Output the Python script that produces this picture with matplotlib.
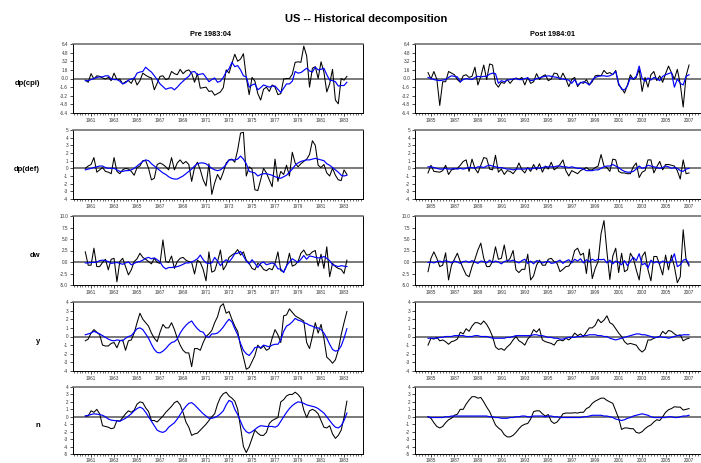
import numpy as np
import matplotlib.pyplot as plt
from matplotlib.ticker import MultipleLocator, FixedLocator

plt.rcParams['font.family'] = ['Liberation Sans', 'DejaVu Sans']

title = "US -- Historical decomposition"
panel_titles = ["Pre 1983:04", "Post 1984:01"]
row_labels = ["dp(cpi)", "dp(def)", "dw", "y", "n"]

# first quarter of each sample (decimal years), quarterly data
pre_start = 1960.5
post_start = 1984.75

# ---- pre-1983 sample: black = series, blue = decomposition ----------------
pre_black_cpi = [-0.3, -0.7, 0.9, -0.1, 0.5, 0.4, 0.1, -0.1, 0.2, -0.4, 1.0, -0.2, -0.1, -1.0, -0.6, -0.4,
                 -0.9, 0.2, -1.2, -0.4, 1.0, 0.6, 0.3, 0.1, -2.1, -0.9, 0.4, 0.5, -0.2, 0.0, 1.3, 0.9,
                 0.7, 1.7, 0.9, 1.4, 1.6, 1.0, -0.7, 0.9, -1.8, -1.7, -1.6, -2.4, -2.3, -3.1, -2.8, -2.5,
                 -1.7, 1.6, 1.0, 2.8, 4.5, 3.2, 3.6, 4.6, 0.2, -3.0, 0.2, -0.5, -2.8, -4.0, -2.0, -1.6,
                 -2.4, -1.2, -1.6, -3.0, -2.8, -0.1, 0.0, 0.0, 0.8, 3.0, 3.1, 3.0, 6.0, 4.2, -1.6, 1.9,
                 2.2, 0.0, 3.1, 1.2, -2.5, -1.0, 1.7, -4.0, -4.7, 0.0, -0.3, 0.4]
pre_blue_cpi = [-0.4, -0.4, -0.2, 0.0, 0.2, 0.3, 0.3, 0.5, 0.5, -0.1, -0.2, -0.2, -0.5, -1.0, -0.8, -0.3,
                -0.1, 0.0, 1.0, 1.2, 1.3, 2.1, 1.6, 1.2, 0.5, -0.2, -1.0, -1.5, -2.0, -1.8, -1.7, -2.1,
                -1.6, -1.0, -0.5, 0.0, 0.4, 1.2, 1.3, 0.7, 0.8, 0.9, 0.2, -0.6, -0.2, 0.1, -0.7, -0.5,
                0.2, 1.2, 1.8, 3.0, 2.2, 2.4, 1.6, 0.5, 0.3, -1.6, -1.2, -1.0, -2.1, -1.7, -1.2, -1.4,
                -1.6, -1.4, -1.4, -2.0, -2.6, -1.8, -1.0, -1.0, -0.5, 1.3, 1.0, 1.1, 1.5, 1.9, 1.4, 1.2,
                2.1, 1.6, 1.7, 1.9, 0.7, -0.3, -0.4, -0.6, -1.4, -1.3, -1.3, -0.7]

pre_black_def = [0.0, 0.3, 0.5, 1.4, -0.5, -0.2, 0.1, -0.4, -0.5, -0.7, 1.4, -0.4, -0.7, -0.2, 0.0, -0.1,
                 -0.4, -0.9, 0.1, 0.3, 1.0, 1.0, 0.0, -1.5, -1.3, 0.5, 0.7, 0.5, 0.2, -0.2, 1.4, -0.2,
                 0.7, 1.1, 0.6, 0.9, 0.5, -1.7, 0.1, 0.8, -0.2, -1.5, -2.3, 0.6, -3.4, -1.9, -0.8, -1.5,
                 -0.5, 0.7, 1.1, 1.2, 0.8, 2.4, 4.6, 4.7, -1.0, 0.2, -0.1, -2.8, -2.9, -1.5, 0.0, -0.6,
                 -1.5, -2.4, 1.2, -1.7, -0.4, -0.8, 0.4, -1.0, 2.1, 0.7, 0.2, 0.6, 0.9, 1.2, 1.8, 3.6,
                 3.0, 0.4, 0.1, 0.5, -0.6, -1.0, 0.0, -0.9, -1.5, -1.6, -0.2, -0.8]
pre_blue_def = [-0.2, -0.1, 0.0, 0.1, 0.2, 0.3, 0.3, 0.1, 0.0, 0.0, 0.0, -0.2, -0.4, -0.4, -0.3, -0.3,
                -0.2, 0.0, 0.3, 0.6, 0.9, 1.1, 1.0, 0.6, 0.3, 0.0, -0.3, -0.6, -0.8, -1.1, -1.3, -1.4,
                -1.4, -1.2, -1.0, -0.7, -0.4, -0.1, 0.3, 0.6, 0.7, 0.7, 0.6, 0.3, 0.0, -0.2, -0.3, -0.2,
                0.1, 0.5, 1.1, 1.1, 1.1, 1.2, 1.6, 1.2, 0.6, -0.4, -0.5, -0.6, -1.0, -0.8, -0.7, -0.7,
                -0.8, -0.9, -1.1, -1.2, -1.3, -1.1, -0.9, -0.5, -0.1, 0.4, 0.7, 0.9, 1.0, 1.1, 1.1, 1.2,
                1.3, 1.2, 1.1, 1.0, 0.6, 0.4, 0.1, -0.2, -0.5, -0.9, -1.0, -0.9]

pre_black_dw = [2.2, -0.7, -0.7, 3.0, -1.0, -1.0, -0.1, 0.6, -1.7, 0.6, 0.8, -4.3, 0.1, 0.8, -1.0, -2.8,
                -1.7, 0.1, 0.7, 1.9, 1.0, 0.6, 0.1, -0.4, 0.8, -0.1, -0.3, 4.8, 0.1, -0.1, 1.3, -1.4,
                0.1, 0.8, 1.0, 0.4, 0.1, -0.1, -2.6, 0.4, -0.1, -1.6, -4.1, 2.2, -2.2, -1.9, 0.1, 2.6,
                -1.7, -0.7, 1.0, 1.5, 1.9, 2.7, 1.5, 2.2, 0.4, -0.3, -1.4, -1.7, -0.3, -0.7, -1.6, -1.9,
                -1.4, -1.7, -0.3, 2.2, -1.9, -2.1, -0.9, 1.9, -0.9, -0.6, 0.1, 1.9, 2.6, 1.5, 1.6, 2.2,
                2.5, -0.9, 1.7, -1.4, 3.3, -3.2, -0.3, -1.0, -1.4, -1.6, -2.5, 0.4]
pre_blue_dw = [-0.2, -0.2, -0.1, -0.1, 0.0, 0.3, 0.4, 0.3, 0.1, -0.3, -0.2, -0.1, -0.3, -0.5, -0.2, 0.0,
               -0.6, -0.3, 0.0, 0.1, 0.4, 0.8, 1.0, 0.7, 0.9, 0.5, 0.0, -1.0, -1.5, -1.2, -1.2, -1.1,
               -1.0, -0.8, -0.5, -0.2, -0.2, 0.0, 0.3, 0.7, 1.5, 0.5, -0.2, -0.3, -0.2, 1.0, 0.2, -0.8,
               0.0, 0.5, 0.0, 0.8, 1.8, 1.9, 2.3, 1.3, 0.2, -0.4, 0.5, -0.3, -1.2, -0.3, 0.0, -0.6,
               -0.4, -0.2, -0.5, -1.5, -1.5, -2.3, -0.8, 0.0, 0.7, 0.3, -0.1, 0.6, 1.4, 0.6, 1.3, 1.2,
               1.0, 0.9, 0.9, 1.2, 0.8, 0.3, -0.6, -0.8, -1.0, -0.8, -0.9, -1.0]

pre_black_y = [-0.5, -0.3, 0.4, 0.8, 0.5, 0.2, -1.0, -1.1, -1.1, -0.8, -0.7, -1.3, -0.5, -0.4, -1.6, -0.5,
               -0.4, 0.4, 1.6, 2.7, 2.0, 1.6, 1.2, 0.4, -0.2, -0.6, 0.5, 1.4, 1.0, 1.0, 1.6, 0.8,
               -0.2, -1.0, -1.6, -1.9, -1.9, -3.5, -1.4, -1.4, -1.6, -0.7, 0.0, 0.3, 0.7, 1.6, 2.3, 3.5,
               3.8, 2.7, 2.9, 2.0, 1.2, 0.6, -1.1, -2.4, -3.8, -3.6, -2.9, -2.2, -1.0, -1.4, -1.1, -1.6,
               -1.4, -0.2, 0.8, 0.2, -0.7, 2.4, 2.5, 3.2, 2.8, 2.4, 2.2, 2.0, 1.8, -0.7, -1.4, 0.0,
               1.6, 0.4, 1.4, -0.2, -2.4, -2.7, -3.1, -2.7, -1.6, 0.2, 1.6, 2.9]
pre_blue_y = [0.2, 0.3, 0.4, 0.6, 0.45, 0.3, 0.1, -0.1, -0.3, -0.45, -0.5, -0.4, -0.45, -0.5, -0.2, 0.0,
              0.1, 0.5, 0.9, 1.0, 0.8, 0.3, -0.2, -0.9, -1.5, -1.85, -1.9, -1.7, -1.4, -1.0, -0.7, -0.6,
              -0.3, 0.4, 0.9, 1.3, 1.6, 1.8, 1.3, 0.9, 0.6, 0.5, 0.0, -0.1, 0.3, 0.3, 0.4, 0.7,
              1.1, 1.6, 2.0, 1.7, 0.9, 0.2, -0.8, -1.6, -2.0, -2.2, -1.8, -1.3, -1.2, -1.3, -1.0, -1.1,
              -1.2, -1.0, -0.9, -0.9, -0.4, 0.6, 1.2, 1.4, 1.7, 2.1, 1.9, 1.8, 1.6, 1.5, 1.3, 1.2,
              1.0, 1.0, 0.8, 0.4, -0.2, -0.9, -1.5, -1.7, -1.6, -1.1, -0.2, 0.9]

pre_black_n = [0.1, 0.1, 0.8, 0.6, 1.0, 0.4, -1.2, -1.3, -1.4, -1.6, -1.5, -0.5, -0.6, -0.1, 0.4, 0.8,
               0.6, 0.9, 1.7, 2.0, 1.9, 1.2, 0.7, -0.5, -0.5, -0.7, -0.3, 0.1, 0.6, 1.0, 1.4, 1.9,
               2.1, 1.6, 0.6, -0.7, -1.4, -2.5, -2.3, -2.2, -1.8, -1.4, -1.0, -0.5, 0.0, 0.4, 1.7, 2.6,
               3.1, 3.3, 2.8, 2.5, 2.1, 1.0, -1.4, -4.0, -4.8, -4.0, -2.9, -1.8, -2.2, -2.5, -2.5, -2.1,
               -0.9, -0.5, -0.3, -0.1, 2.0, 2.3, 2.8, 3.0, 3.0, 3.3, 3.0, 2.5, 0.9, -0.1, 0.8, 1.0,
               0.8, 0.4, -0.5, -1.4, -1.5, -1.2, -2.3, -2.9, -2.5, -1.8, -0.1, 2.1]
pre_blue_n = [0.1, 0.2, 0.3, 0.4, 0.35, 0.3, 0.2, 0.0, -0.3, -0.45, -0.5, -0.55, -0.6, -0.4, -0.2, 0.1,
              0.4, 0.8, 1.1, 1.3, 1.1, 0.6, 0.0, -0.6, -1.2, -1.8, -2.0, -2.1, -1.9, -1.4, -1.1, -0.8,
              -0.3, 0.3, 0.9, 1.4, 1.8, 1.9, 1.6, 1.2, 0.8, 0.4, 0.1, -0.2, -0.2, -0.1, 0.1, 0.4,
              0.8, 1.6, 2.2, 2.0, 1.0, 0.3, -0.6, -1.5, -2.0, -2.2, -2.0, -1.7, -1.4, -1.2, -1.25, -1.3,
              -1.3, -1.3, -1.4, -1.2, -0.6, 0.0, 0.6, 1.1, 1.5, 1.8, 2.0, 1.95, 1.8, 1.6, 1.5, 1.4,
              1.3, 1.1, 0.8, 0.5, 0.0, -0.5, -1.0, -1.4, -1.5, -1.2, -0.5, 0.5]

# ---- post-1984 sample ------------------------------------------------------
post_black_cpi = [1.1, -0.1, 1.3, -0.1, -5.0, -0.6, -0.6, 1.3, 1.0, 0.7, -0.2, -0.7, 0.5, 0.7, 0.2, 0.4,
                  2.1, -1.2, 0.4, 2.5, -0.2, 2.7, 2.5, -0.9, -1.6, -0.7, -0.9, -0.2, -0.9, -0.2, 0.1, -0.2,
                  0.2, -1.2, 0.2, -0.9, -0.6, 0.9, -0.2, 0.4, 0.7, -0.4, -0.1, 1.0, 0.9, -0.2, 1.0, -0.1,
                  -1.5, -0.2, 0.2, -1.5, -0.7, -0.9, -0.2, -1.2, -0.6, 0.5, 0.6, 0.5, 1.5, 0.9, 1.1, 0.7,
                  1.5, -1.2, -1.8, -2.7, -1.2, 0.7, -0.2, 0.2, 1.7, -2.4, 0.2, -1.6, 0.7, 1.3, -0.4, 0.5,
                  -0.7, 0.9, 2.3, 1.1, -0.1, 1.7, -1.0, -5.3, 0.5, 2.5]
post_blue_cpi = [0.2, 0.0, -0.2, -0.3, -0.4, -0.3, -0.2, 0.2, 0.5, 0.4, 0.3, -0.6, -0.2, 0.0, -0.1, -0.2,
                 0.2, 0.4, 0.3, 0.4, 0.4, 0.8, 1.0, 0.9, -0.9, -0.4, -0.6, -0.3, -0.2, -0.1, 0.0, -0.2,
                 -0.2, 0.0, 0.1, -0.4, -0.3, 0.0, 0.1, 0.3, 0.4, 0.5, 0.4, 0.3, 0.2, 0.0, -0.1, -0.2,
                 -0.3, -0.9, -0.2, -1.2, -0.8, -0.6, -0.8, -1.2, -0.3, 0.2, 0.4, 0.5, 0.5, 0.4, 0.5, 0.8,
                 1.3, -0.9, -2.0, -2.1, -1.4, 0.2, -0.1, 0.4, 2.3, 0.0, -0.5, 0.1, -0.3, 0.2, 0.0, -0.4,
                 0.4, 0.7, 0.9, 1.1, -1.6, -0.1, -0.9, -1.2, 0.4, 0.7]

post_black_def = [-0.6, 0.4, -0.4, -0.45, -0.5, -0.3, 0.4, -0.8, -0.2, -0.1, 0.0, 0.4, 0.9, 1.1, -0.4, 1.2,
                  0.0, -0.6, 0.4, 1.4, 1.3, -0.1, -0.2, 1.7, -0.5, -0.1, -0.8, -0.3, -0.4, -0.7, -0.2, 0.7,
                  -0.2, -0.6, 0.1, -0.4, 0.5, -0.2, 0.6, -0.5, 0.3, -0.1, 0.8, -0.2, 0.1, 0.5, 1.1, -0.3,
                  -1.0, -0.3, -0.5, -0.7, -0.3, -0.1, 0.1, -0.2, -0.2, 0.1, 0.3, 1.8, 0.3, 0.1, -0.4, 1.2,
                  1.1, -0.4, -0.6, -0.6, -0.7, -0.7, 0.2, 0.7, -1.2, -0.5, -0.3, 1.1, 1.1, -0.6, 0.2, 0.9,
                  -0.2, 0.5, 0.5, 0.4, 0.3, -0.3, -1.4, 1.1, -0.7, -0.6]
post_blue_def = [0.2, 0.2, 0.1, 0.0, -0.1, -0.1, 0.0, -0.1, -0.1, 0.0, -0.1, 0.0, -0.1, 0.0, 0.1, 0.1,
                 0.0, 0.2, 0.2, 0.1, 0.3, 0.4, 0.3, 0.2, 0.1, 0.1, 0.0, -0.1, -0.1, -0.2, -0.1, -0.1,
                 -0.1, -0.1, 0.0, -0.1, 0.0, 0.1, 0.0, 0.1, 0.2, 0.2, 0.2, 0.2, 0.3, 0.3, 0.2, 0.2,
                 0.1, 0.2, 0.1, 0.0, 0.0, -0.1, -0.3, -0.3, -0.3, -0.2, -0.2, 0.0, 0.2, 0.3, 0.3, 0.5,
                 0.3, 0.1, -0.2, -0.4, -0.5, -0.5, -0.4, -0.1, 0.3, 0.0, 0.1, 0.4, 0.3, 0.2, 0.1, 0.0,
                 0.1, 0.3, 0.2, 0.0, 0.1, 0.0, -0.3, -0.4, -0.1, 0.0]

post_black_dw = [-2.1, 0.8, 2.2, 0.8, -1.0, -0.7, 2.0, -3.9, -0.7, 0.6, 1.9, 0.1, -1.4, -2.8, -3.2, -1.0,
                 0.6, 2.6, 4.1, 0.8, -1.0, -1.0, 0.1, 3.3, 0.6, 0.8, 3.7, 0.1, 0.8, 2.5, -1.7, -2.3,
                 -1.6, -1.6, 1.7, -3.9, -3.0, -0.7, 0.4, -0.7, -0.7, 0.6, 0.8, 0.1, -0.3, -2.1, -1.6, -1.0,
                 -0.9, 0.1, 2.5, 3.0, 1.5, 1.9, -2.5, 2.8, -3.6, -1.4, 0.1, 6.2, 9.0, 2.2, -3.8, 1.3,
                 3.0, -2.3, 1.9, -2.1, -1.7, 1.9, 0.8, -1.7, -3.9, 1.2, 2.2, -1.7, -4.1, 1.2, 1.2, -0.7,
                 -2.8, 1.5, -1.7, 1.5, -1.0, -4.5, -3.2, 7.0, 0.4, -0.9]
post_blue_dw = [-0.1, 0.0, -0.2, 0.1, 0.2, 0.0, 0.3, 0.1, -0.2, 0.2, 0.0, -0.3, 0.1, 0.2, -0.1, 0.3,
                0.0, -0.3, 0.2, 0.1, -0.2, 0.4, -0.1, 0.2, 0.0, -0.4, 0.1, 0.3, 0.2, 0.4, 0.1, -0.2,
                0.3, 0.6, -0.3, 0.2, -0.4, 0.3, 0.1, -0.2, 0.0, 0.2, -0.3, -0.2, 0.1, 0.4, -0.3, 0.2,
                0.5, -0.2, 0.6, 0.2, 0.7, -0.2, 0.5, 0.1, 0.6, 0.3, 0.6, 0.5, 0.6, -0.2, 0.4, -0.4,
                0.2, -0.1, -0.6, 0.3, -0.8, 0.2, 1.0, 0.3, 1.8, -0.6, -0.3, -1.3, 0.4, -0.2, 0.1, -0.3,
                0.2, 0.0, -0.2, 0.3, 1.8, -1.0, -0.6, 0.4, 0.6, -0.5]

post_black_y = [-1.0, -0.2, -0.3, -0.1, -0.5, -0.4, -0.6, -0.9, -0.6, -0.5, -0.3, 0.5, 0.3, 0.9, 0.6, 1.2,
                1.6, 1.6, 1.4, 1.8, 1.4, 0.8, 0.0, -1.2, -1.5, -1.4, -1.6, -1.2, -0.9, -0.4, 0.0, -0.5,
                -0.7, -1.0, -0.3, 0.1, 0.8, 0.5, 0.9, -0.4, -0.6, -0.7, -0.8, -1.0, -0.5, -0.4, -0.5, -0.2,
                -0.4, -0.1, 0.4, 0.1, 0.3, 0.0, 0.5, 1.0, 1.0, 1.3, 2.0, 1.6, 1.9, 2.4, 1.6, 1.4,
                0.9, 0.4, 0.0, -0.6, -0.9, -0.8, -0.9, -1.0, -1.5, -1.8, -1.5, -0.4, -0.4, -0.2, -0.1, 0.0,
                0.6, 0.3, 0.7, 0.6, 0.3, 0.1, 0.2, -0.5, -0.3, -0.2]
post_blue_y = [-0.2, -0.2, -0.2, -0.2, -0.1, -0.1, 0.0, 0.0, 0.0, 0.1, 0.1, 0.1, 0.1, 0.0, 0.0, 0.0,
               0.1, 0.1, 0.0, 0.0, 0.0, -0.1, -0.2, -0.2, -0.2, -0.2, -0.2, -0.1, -0.1, 0.0, 0.1, 0.1,
               0.1, 0.1, 0.1, 0.1, 0.2, 0.2, 0.1, 0.1, 0.0, -0.1, -0.1, -0.2, -0.2, -0.3, -0.3, -0.2,
               -0.1, -0.1, -0.1, 0.0, 0.0, 0.1, 0.1, 0.2, 0.2, 0.2, 0.1, 0.1, 0.0, 0.0, -0.2, -0.3,
               -0.4, -0.3, -0.2, -0.1, 0.0, 0.1, 0.2, 0.3, 0.3, 0.2, 0.2, 0.1, 0.0, -0.1, -0.1, 0.0,
               -0.1, -0.1, -0.2, -0.1, 0.0, 0.1, 0.1, 0.2, 0.2, 0.2]

post_black_n = [0.0, -0.2, -0.8, -1.3, -1.5, -1.3, -0.8, -0.4, -0.2, 0.2, 0.35, 1.0, 1.0, 1.7, 2.25, 2.7,
                2.7, 2.5, 2.6, 2.0, 1.3, 0.7, -0.2, -1.1, -1.5, -1.8, -2.4, -2.7, -2.7, -2.5, -2.1, -1.6,
                -1.2, -1.0, -0.9, -0.3, 0.7, 0.8, 0.8, 0.4, 0.1, 0.3, -0.6, -0.9, -0.7, -0.2, 0.4, 0.5,
                0.5, 0.5, 0.55, 0.5, 0.6, 0.6, 1.1, 1.3, 1.8, 2.1, 2.3, 2.5, 2.5, 2.2, 2.0, 1.8,
                0.8, -0.2, -1.7, -1.5, -1.5, -1.6, -1.6, -2.1, -2.2, -2.0, -1.6, -1.3, -1.1, -0.7, -0.4, -0.5,
                0.0, 0.6, 0.95, 1.1, 1.35, 1.3, 1.3, 0.9, 1.0, 1.1]
post_blue_n = [0.0, -0.1, -0.1, -0.1, -0.1, -0.1, 0.0, 0.0, 0.1, 0.1, 0.1, 0.1, 0.1, 0.1, 0.1, 0.1,
               0.1, 0.1, 0.1, 0.1, 0.1, 0.0, 0.0, -0.1, -0.1, -0.2, -0.2, -0.2, -0.1, -0.1, 0.0, 0.0,
               0.1, 0.1, 0.0, 0.0, 0.1, 0.1, 0.1, 0.1, 0.0, 0.1, 0.1, 0.0, 0.0, -0.1, -0.1, -0.1,
               -0.1, -0.1, -0.1, -0.1, -0.1, 0.0, 0.0, 0.1, 0.2, 0.2, 0.2, 0.2, 0.1, 0.1, 0.0, -0.1,
               -0.3, -0.4, -0.5, -0.4, -0.2, -0.1, 0.1, 0.2, 0.3, 0.4, 0.3, 0.2, 0.0, -0.1, -0.1, -0.1,
               -0.1, -0.1, 0.0, 0.0, -0.1, -0.1, 0.0, 0.1, 0.1, 0.2]

pre_rows = [(pre_black_cpi, pre_blue_cpi), (pre_black_def, pre_blue_def), (pre_black_dw, pre_blue_dw),
            (pre_black_y, pre_blue_y), (pre_black_n, pre_blue_n)]
post_rows = [(post_black_cpi, post_blue_cpi), (post_black_def, post_blue_def), (post_black_dw, post_blue_dw),
             (post_black_y, post_blue_y), (post_black_n, post_blue_n)]

# y axis ticks and their labels for each row
row_yticks = [
    [-6.4, -4.8, -3.2, -1.6, 0.0, 1.6, 3.2, 4.8, 6.4],
    [-4, -3, -2, -1, 0, 1, 2, 3, 4, 5],
    [-5.0, -2.5, 0.0, 2.5, 5.0, 7.5, 10.0],
    [-4, -3, -2, -1, 0, 1, 2, 3, 4],
    [-5, -4, -3, -2, -1, 0, 1, 2, 3, 4],
]
row_ylabels = [
    ["-6.4", "-4.8", "-3.2", "-1.6", "-0.0", "1.6", "3.2", "4.8", "6.4"],
    ["-4", "-3", "-2", "-1", "0", "1", "2", "3", "4", "5"],
    ["-5.0", "-2.5", "0.0", "2.5", "5.0", "7.5", "10.0"],
    ["-4", "-3", "-2", "-1", "0", "1", "2", "3", "4"],
    ["-5", "-4", "-3", "-2", "-1", "0", "1", "2", "3", "4"],
]

pre_years = list(range(1961, 1984, 2))
post_years = list(range(1985, 2008, 2))

# --- layout (pixels of a 701 x 463 canvas) ----------------------------------
W, H = 701, 463
fig = plt.figure(figsize=(W / 100, H / 100), dpi=100)

row_tops = [44, 130, 216, 302, 387]
row_hs = [69, 69, 69, 69, 67]
col_left = [73, 415]
col_w = 290
col_xlim = [(1959.43, 1984.65), (1983.64, 2008.36)]


def style_axes(ax, yticks, ylabels, years, xpad):
    for side in ["left", "bottom", "right"]:
        ax.spines[side].set_linewidth(0.7)
        ax.spines[side].set_color("black")
    ax.spines["top"].set_linewidth(1.1)
    ax.spines["top"].set_color("#666666")
    ax.yaxis.set_major_locator(FixedLocator(yticks))
    ax.set_yticklabels(ylabels)
    ax.xaxis.set_major_locator(FixedLocator(years))
    ax.set_xticklabels([str(y) for y in years])
    ax.xaxis.set_minor_locator(MultipleLocator(0.25))
    ax.tick_params(axis="both", which="major", labelsize=3.3, length=2.0, width=0.5,
                   direction="out", pad=1.5, colors="black", labelcolor="#333333")
    ax.tick_params(axis="x", which="major", pad=xpad)
    ax.tick_params(axis="x", which="minor", length=1.2, width=0.4, direction="out")
    ax.set_ylim(yticks[0], yticks[-1])


for c, (rows, start, years) in enumerate([(pre_rows, pre_start, pre_years),
                                          (post_rows, post_start, post_years)]):
    for r, (black, blue) in enumerate(rows):
        top = row_tops[r]
        h = row_hs[r]
        ax = fig.add_axes([col_left[c] / W, 1 - (top + h) / H, col_w / W, h / H])
        ax.axhline(0, color="#555555", lw=1.1, zorder=1)
        xb = start + 0.25 * np.arange(len(black))
        xl = start + 0.25 * np.arange(len(blue))
        ax.plot(xb, black, color="black", lw=0.75, zorder=2)
        ax.plot(xl, blue, color="#0000ff", lw=0.85, zorder=3)
        ax.set_xlim(*col_xlim[c])
        style_axes(ax, row_yticks[r], row_ylabels[r], years, 0.8 if r == 4 else 1.5)

for r, lab in enumerate(row_labels):
    yc = row_tops[r] + row_hs[r] / 2 + 5
    fig.text(40 / W, 1 - yc / H, lab, ha="right", va="center", fontsize=5.5, fontweight="bold")

fig.text(366 / W, 1 - 19 / H, title, ha="center", va="center", fontsize=8, fontweight="bold")
fig.text(210 / W, 1 - 35 / H, panel_titles[0], ha="center", va="center", fontsize=5.3, fontweight="bold")
fig.text(552 / W, 1 - 35 / H, panel_titles[1], ha="center", va="center", fontsize=5.3, fontweight="bold")

fig.savefig("out.png", dpi=100)
